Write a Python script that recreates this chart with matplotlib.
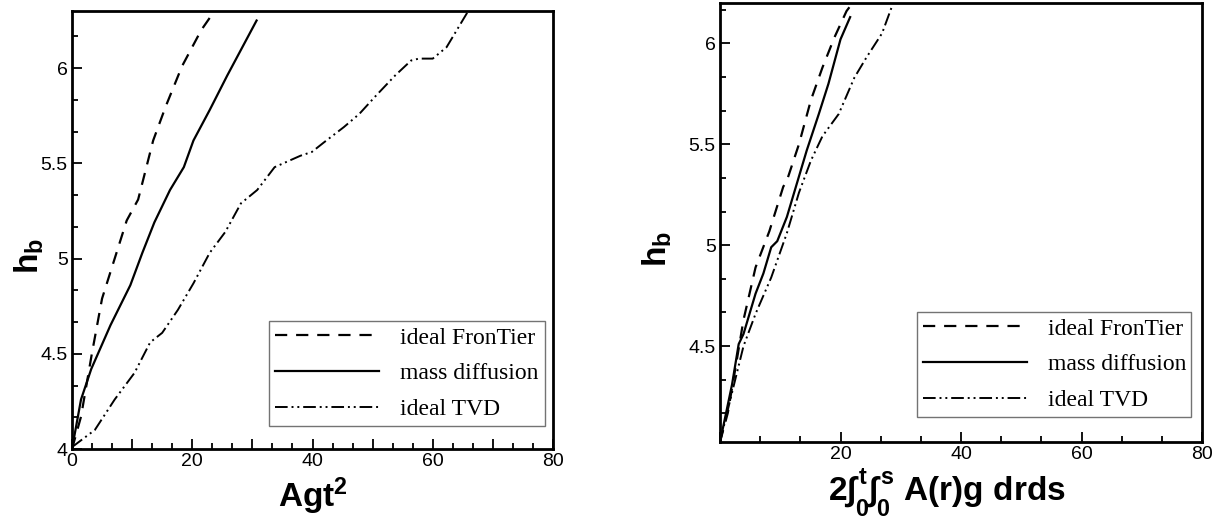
import numpy as np
import matplotlib.pyplot as plt
from matplotlib.ticker import MultipleLocator, FuncFormatter

# h_b against Agt^2
agt2_frontier = [0, 1.5, 3.3, 5.0, 7.1, 9.1, 11.0, 13.5, 15.6, 18.3, 21.5, 23.7]
hb_frontier = [4.0, 4.17, 4.5, 4.79, 5.0, 5.2, 5.31, 5.62, 5.8, 6.01, 6.2, 6.3]

agt2_massdiff = [0, 1.5, 3.2, 6.4, 9.7, 11.7, 13.7, 16.3, 18.6, 20.2, 22.9, 25.8, 30.7]
hb_massdiff = [4.0, 4.26, 4.42, 4.65, 4.86, 5.03, 5.19, 5.36, 5.48, 5.62, 5.78, 5.96, 6.25]

agt2_tvd = [0, 3.8, 7.1, 10.4, 13.0, 15.0, 17.6, 20.2, 22.9, 25.5, 28.1, 30.8, 33.7,
            38.0, 39.9, 41.9, 45.2, 47.8, 50.4, 53.7, 56.4, 57.7, 60.0, 62.3, 65.9]
hb_tvd = [4.01, 4.1, 4.26, 4.4, 4.56, 4.61, 4.73, 4.87, 5.03, 5.14, 5.29, 5.36, 5.48,
          5.54, 5.56, 5.61, 5.69, 5.76, 5.85, 5.96, 6.04, 6.05, 6.05, 6.11, 6.3]

# h_b against the double integral of A(r)g
int_frontier = [0, 1.3, 2.95, 3.9, 5.9, 8.2, 10.5, 11.1, 13.1, 15.1, 17.0, 19.0, 21.0, 22.0]
hbi_frontier = [4.025, 4.17, 4.46, 4.63, 4.89, 5.07, 5.29, 5.32, 5.5, 5.72, 5.88, 6.03, 6.16, 6.2]

int_massdiff = [0, 2.0, 3.1, 3.9, 5.9, 7.2, 8.5, 9.5, 11.1, 12.8, 14.4, 16.4, 18.0, 20.0, 21.6]
hbi_massdiff = [4.025, 4.31, 4.51, 4.56, 4.76, 4.86, 4.99, 5.02, 5.14, 5.31, 5.47, 5.65, 5.8, 6.02, 6.13]

int_tvd = [0, 2.0, 3.9, 5.9, 8.5, 11.1, 13.1, 15.1, 17.0, 19.7, 22.3, 24.3, 26.9, 28.5]
hbi_tvd = [4.025, 4.27, 4.5, 4.66, 4.84, 5.06, 5.26, 5.42, 5.54, 5.65, 5.83, 5.93, 6.05, 6.18]

labels = ["ideal FronTier", "mass diffusion", "ideal TVD"]

plt.rcParams['font.family'] = ['Liberation Sans', 'DejaVu Sans']
plt.rcParams['mathtext.fontset'] = 'custom'
plt.rcParams['mathtext.rm'] = 'Liberation Sans:bold'
plt.rcParams['mathtext.it'] = 'Liberation Sans:bold'
plt.rcParams['mathtext.bf'] = 'Liberation Sans:bold'

dash = (0, (5.5, 4))
dashdotdot = (0, (6.5, 2, 1, 2, 1, 2))

fig = plt.figure(figsize=(12.28, 5.18), dpi=100)
ax1 = fig.add_axes([72 / 1228, 1 - 449 / 518, 481 / 1228, 438 / 518])
ax2 = fig.add_axes([720 / 1228, 1 - 442 / 518, 482 / 1228, 439 / 518])


def style_axes(ax):
    for s in ax.spines.values():
        s.set_linewidth(2)
    ax.tick_params(which='both', direction='in', top=False, right=False,
                   labelsize=14, width=1.3)
    ax.tick_params(which='major', length=7.5, pad=3)
    ax.tick_params(which='minor', length=4.5)


def add_legend(ax, box):
    leg = ax.legend(labels, loc='lower left', bbox_to_anchor=box, mode='expand',
                    prop={'family': 'Liberation Serif', 'size': 17},
                    handlelength=4.4, handletextpad=0.9, labelspacing=0.6,
                    borderpad=0.25, borderaxespad=0, fancybox=False,
                    framealpha=1)
    leg.get_frame().set_edgecolor('0.45')
    leg.get_frame().set_linewidth(1.0)


# left panel
ax1.plot(agt2_frontier, hb_frontier, color='black', lw=1.6, linestyle=dash)
ax1.plot(agt2_massdiff, hb_massdiff, color='black', lw=1.6)
ax1.plot(agt2_tvd, hb_tvd, color='black', lw=1.4, linestyle=dashdotdot)
ax1.set_xlim(0, 80)
ax1.set_ylim(4, 6.3)
ax1.xaxis.set_major_locator(MultipleLocator(10))
ax1.xaxis.set_minor_locator(MultipleLocator(10 / 3))
ax1.xaxis.set_major_formatter(FuncFormatter(lambda v, p: f"{v:g}" if round(v) % 20 == 0 else ""))
ax1.yaxis.set_major_locator(MultipleLocator(0.5))
ax1.yaxis.set_minor_locator(MultipleLocator(0.5 / 3))
ax1.yaxis.set_major_formatter(FuncFormatter(lambda v, p: f"{v:g}"))
style_axes(ax1)
ax1.set_xlabel(r'$\mathbf{Agt^2}$', fontsize=24, labelpad=4)
ax1.set_ylabel(r'$\mathbf{h_b}$', fontsize=24)
ax1.yaxis.set_label_coords(-0.055, 0.44)
add_legend(ax1, (0.41, 0.0525, 0.573, 0.247))

# right panel
ax2.plot(int_frontier, hbi_frontier, color='black', lw=1.6, linestyle=dash)
ax2.plot(int_massdiff, hbi_massdiff, color='black', lw=1.6)
ax2.plot(int_tvd, hbi_tvd, color='black', lw=1.4, linestyle=dashdotdot)
ax2.set_xlim(0, 80)
ax2.set_ylim(4.025, 6.2)
ax2.xaxis.set_major_locator(MultipleLocator(20))
ax2.xaxis.set_minor_locator(MultipleLocator(20 / 3))
ax2.xaxis.set_major_formatter(FuncFormatter(lambda v, p: "" if v == 0 else f"{v:g}"))
ax2.yaxis.set_major_locator(MultipleLocator(0.5))
ax2.yaxis.set_minor_locator(MultipleLocator(0.5 / 3))
ax2.yaxis.set_major_formatter(FuncFormatter(lambda v, p: f"{v:g}"))
style_axes(ax2)
ax2.set_xlabel(r'$\mathbf{2\int_0^t\int_0^s\ A(r)g\ drds}$', fontsize=24, labelpad=2)
ax2.xaxis.label.set_x(0.47)
ax2.set_ylabel(r'$\mathbf{h_b}$', fontsize=24)
ax2.yaxis.set_label_coords(-0.095, 0.44)
add_legend(ax2, (0.409, 0.057, 0.568, 0.232))

fig.savefig('out.png', dpi=100)
